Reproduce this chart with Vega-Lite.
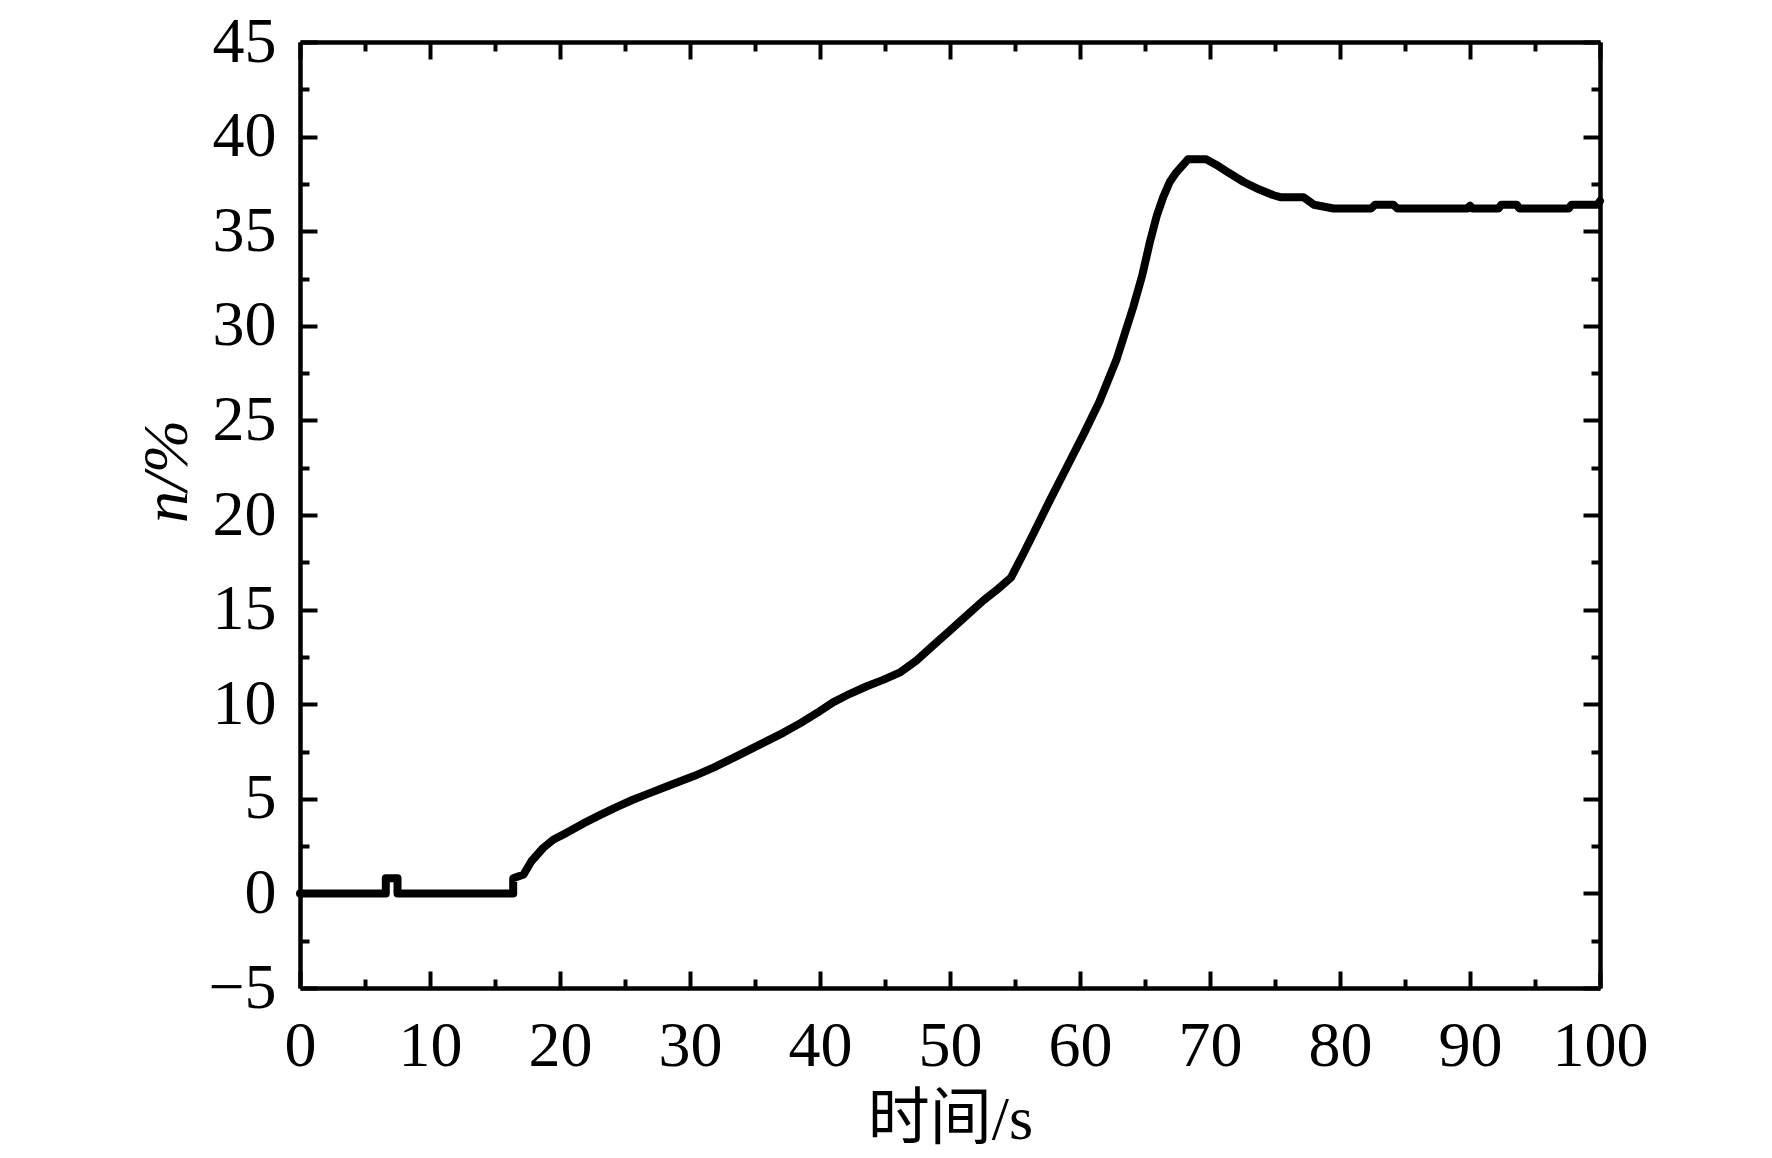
{
  "$schema": "https://vega.github.io/schema/vega-lite/v6.json",
  "width": 1300,
  "height": 946,
  "autosize": {"type": "none"},
  "padding": {"left": 300, "top": 42, "right": 172, "bottom": 170},
  "background": "white",
  "config": {
    "view": {"stroke": null},
    "axis": {
      "labelFont": "Liberation Serif",
      "labelFontSize": 64,
      "labelColor": "black",
      "domainColor": "black",
      "domainWidth": 4.5,
      "tickColor": "black",
      "tickWidth": 4,
      "grid": false,
      "labelOverlap": false,
      "labelFlush": false,
      "titleColor": "black"
    }
  },
  "data": {
    "values": [
      {"t": 0, "n": 0}, {"t": 6.6, "n": 0}, {"t": 6.6, "n": 0.8}, {"t": 7.5, "n": 0.8},
      {"t": 7.5, "n": 0}, {"t": 16.4, "n": 0}, {"t": 16.4, "n": 0.8}, {"t": 17.2, "n": 1.0},
      {"t": 17.8, "n": 1.7}, {"t": 18.7, "n": 2.4}, {"t": 19.5, "n": 2.85}, {"t": 20.5, "n": 3.2},
      {"t": 21.8, "n": 3.7}, {"t": 23.1, "n": 4.15}, {"t": 24.3, "n": 4.55}, {"t": 25.6, "n": 4.95},
      {"t": 26.9, "n": 5.3}, {"t": 28.2, "n": 5.65}, {"t": 30.3, "n": 6.2}, {"t": 31.8, "n": 6.65},
      {"t": 33.3, "n": 7.15}, {"t": 34.6, "n": 7.6}, {"t": 35.9, "n": 8.05}, {"t": 37.2, "n": 8.5},
      {"t": 38.5, "n": 9.0}, {"t": 39.8, "n": 9.55}, {"t": 41.0, "n": 10.1}, {"t": 42.3, "n": 10.55},
      {"t": 43.6, "n": 10.95}, {"t": 44.9, "n": 11.3}, {"t": 46.2, "n": 11.7}, {"t": 47.4, "n": 12.3},
      {"t": 48.7, "n": 13.1}, {"t": 50.0, "n": 13.9}, {"t": 51.3, "n": 14.7}, {"t": 52.6, "n": 15.5},
      {"t": 53.7, "n": 16.1}, {"t": 54.7, "n": 16.7}, {"t": 55.6, "n": 17.9}, {"t": 56.4, "n": 19.0},
      {"t": 57.7, "n": 20.8}, {"t": 59.0, "n": 22.55}, {"t": 60.3, "n": 24.3}, {"t": 61.5, "n": 26.0},
      {"t": 62.8, "n": 28.2}, {"t": 64.1, "n": 31.0}, {"t": 64.8, "n": 32.7}, {"t": 65.4, "n": 34.5},
      {"t": 65.9, "n": 35.8}, {"t": 66.4, "n": 36.8}, {"t": 66.9, "n": 37.6}, {"t": 67.4, "n": 38.1},
      {"t": 68.3, "n": 38.8}, {"t": 69.7, "n": 38.8}, {"t": 70.5, "n": 38.5}, {"t": 71.3, "n": 38.15},
      {"t": 72.6, "n": 37.6}, {"t": 73.8, "n": 37.2}, {"t": 74.9, "n": 36.9}, {"t": 75.4, "n": 36.8},
      {"t": 77.2, "n": 36.8}, {"t": 78.0, "n": 36.4}, {"t": 79.5, "n": 36.2}, {"t": 82.4, "n": 36.2},
      {"t": 82.7, "n": 36.4}, {"t": 84.1, "n": 36.4}, {"t": 84.4, "n": 36.2}, {"t": 89.8, "n": 36.2},
      {"t": 90.0, "n": 36.35}, {"t": 90.2, "n": 36.2}, {"t": 92.2, "n": 36.2}, {"t": 92.4, "n": 36.4},
      {"t": 93.6, "n": 36.4}, {"t": 93.8, "n": 36.2}, {"t": 97.6, "n": 36.2}, {"t": 97.8, "n": 36.4},
      {"t": 99.8, "n": 36.4}, {"t": 100, "n": 36.6}
    ]
  },
  "layer": [
    {
      "mark": {"type": "line", "color": "black", "strokeWidth": 8, "strokeJoin": "round", "strokeCap": "round"},
      "encoding": {
        "x": {
          "field": "t",
          "type": "quantitative",
          "scale": {"domain": [0, 100], "nice": false, "zero": false},
          "axis": {
            "orient": "bottom",
            "title": "时间/s",
            "titleFont": "Liberation Serif, Noto Sans CJK SC",
            "titleFontSize": 62,
            "titleFontWeight": "normal",
            "titleBaseline": "alphabetic",
            "titleY": 150,
            "values": [0, 5, 10, 15, 20, 25, 30, 35, 40, 45, 50, 55, 60, 65, 70, 75, 80, 85, 90, 95, 100],
            "labelExpr": "datum.value % 10 === 0 ? datum.label : ''",
            "labelPadding": 43,
            "tickSize": {"condition": {"test": "datum.value % 10 === 0", "value": -17}, "value": -9}
          }
        },
        "y": {
          "field": "n",
          "type": "quantitative",
          "scale": {"domain": [-5, 45], "nice": false, "zero": false},
          "axis": {
            "orient": "left",
            "title": "n/%",
            "titleFont": "Liberation Serif",
            "titleFontSize": 64,
            "titleFontWeight": "normal",
            "titleFontStyle": "italic",
            "titleAngle": -90,
            "titleAlign": "center",
            "titleBaseline": "middle",
            "titleX": -133,
            "titleY": 429,
            "values": [-5, -2.5, 0, 2.5, 5, 7.5, 10, 12.5, 15, 17.5, 20, 22.5, 25, 27.5, 30, 32.5, 35, 37.5, 40, 42.5, 45],
            "labelExpr": "datum.value % 5 === 0 ? datum.label : ''",
            "labelPadding": 41,
            "tickSize": {"condition": {"test": "datum.value % 5 === 0", "value": -17}, "value": -9}
          }
        }
      }
    },
    {
      "mark": {"type": "line", "strokeOpacity": 0},
      "encoding": {
        "x": {
          "field": "t",
          "type": "quantitative",
          "scale": {"domain": [0, 100], "nice": false, "zero": false},
          "axis": {
            "orient": "top",
            "title": null,
            "labels": false,
            "values": [0, 5, 10, 15, 20, 25, 30, 35, 40, 45, 50, 55, 60, 65, 70, 75, 80, 85, 90, 95, 100],
            "tickSize": {"condition": {"test": "datum.value % 10 === 0", "value": -17}, "value": -9}
          }
        },
        "y": {
          "field": "n",
          "type": "quantitative",
          "scale": {"domain": [-5, 45], "nice": false, "zero": false},
          "axis": {
            "orient": "right",
            "title": null,
            "labels": false,
            "values": [-5, -2.5, 0, 2.5, 5, 7.5, 10, 12.5, 15, 17.5, 20, 22.5, 25, 27.5, 30, 32.5, 35, 37.5, 40, 42.5, 45],
            "tickSize": {"condition": {"test": "datum.value % 5 === 0", "value": -17}, "value": -9}
          }
        }
      }
    }
  ],
  "resolve": {"axis": {"x": "independent", "y": "independent"}}
}
